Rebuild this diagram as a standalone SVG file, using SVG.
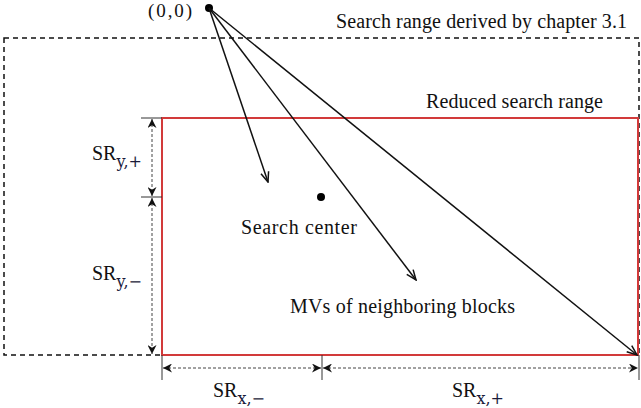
<svg xmlns="http://www.w3.org/2000/svg" width="641" height="408" viewBox="0 0 641 408">
<style>
text{font-family:"Liberation Serif","Times New Roman",serif;fill:#111;}
.lbl{font-size:20px;}
.sr{font-size:20px;}
.sub{font-size:16px;font-family:"DejaVu Serif","Liberation Serif",serif;fill:#1a1a3a;}
.arr{stroke:#111;stroke-width:1.5;fill:none;marker-end:url(#ah);}
.dim{stroke:#444;stroke-width:1;stroke-dasharray:3,2;fill:none;}
.tick{stroke:#333;stroke-width:1;}
</style>
<defs>
<marker id="ah" viewBox="0 0 12 10" refX="11" refY="5" markerWidth="12" markerHeight="10" markerUnits="userSpaceOnUse" orient="auto">
<path d="M1,1 L11,5 L1,9" fill="none" stroke="#111" stroke-width="1.5"/>
</marker>
<marker id="dh" viewBox="0 0 10 10" refX="10" refY="5" markerWidth="9" markerHeight="9" markerUnits="userSpaceOnUse" orient="auto-start-reverse">
<path d="M0,0 L10,5 L0,10 L3,5 Z" fill="#111"/>
</marker>
</defs>
<g id="outer-range">
<rect x="4" y="38" width="635" height="317" fill="none" stroke="#111" stroke-width="1.5" stroke-dasharray="5,4"/>
<text class="lbl" x="336" y="28" textLength="291" lengthAdjust="spacing">Search range derived by chapter 3.1</text>
</g>
<g id="reduced-range">
<rect x="162" y="118" width="476" height="237" fill="none" stroke="#d23a3a" stroke-width="2"/>
<text class="lbl" x="426" y="108" textLength="177" lengthAdjust="spacing">Reduced search range</text>
</g>
<g id="origin">
<circle cx="209" cy="8" r="4" fill="#000"/>
<text class="lbl" x="148" y="17" style="font-size:19px" textLength="44" lengthAdjust="spacing">(0,0)</text>
</g>
<g id="search-center">
<circle cx="321" cy="197" r="4" fill="#000"/>
<text class="lbl" x="241" y="234" textLength="116" lengthAdjust="spacing">Search center</text>
</g>
<g id="mvs">
<text class="lbl" x="290" y="313" textLength="225" lengthAdjust="spacing">MVs of neighboring blocks</text>
</g>
<g id="connectors">
<line class="arr" x1="209" y1="8" x2="268" y2="182"/>
<line class="arr" x1="209" y1="8" x2="416" y2="280"/>
<line class="arr" x1="209" y1="8" x2="637" y2="355"/>
</g>
<g id="dimensions">
<line class="tick" x1="141" y1="118" x2="162" y2="118"/>
<line class="tick" x1="141" y1="197" x2="162" y2="197"/>
<line class="dim" x1="152" y1="119" x2="152" y2="196" marker-start="url(#dh)" marker-end="url(#dh)"/>
<line class="dim" x1="152" y1="198" x2="152" y2="354" marker-start="url(#dh)" marker-end="url(#dh)"/>
<line class="tick" x1="162" y1="355" x2="162" y2="380"/>
<line class="tick" x1="322" y1="355" x2="322" y2="380"/>
<line class="tick" x1="639" y1="355" x2="639" y2="380"/>
<line class="dim" x1="163" y1="368" x2="321" y2="368" marker-start="url(#dh)" marker-end="url(#dh)"/>
<line class="dim" x1="323" y1="368" x2="638" y2="368" marker-start="url(#dh)" marker-end="url(#dh)"/>
<text class="sr" x="92" y="160">SR<tspan class="sub" dy="7">y,+</tspan></text>
<text class="sr" x="92" y="280">SR<tspan class="sub" dy="7">y,−</tspan></text>
<text class="sr" x="213" y="397">SR<tspan class="sub" dy="7">x,−</tspan></text>
<text class="sr" x="452" y="397">SR<tspan class="sub" dy="7">x,+</tspan></text>
</g>
</svg>
